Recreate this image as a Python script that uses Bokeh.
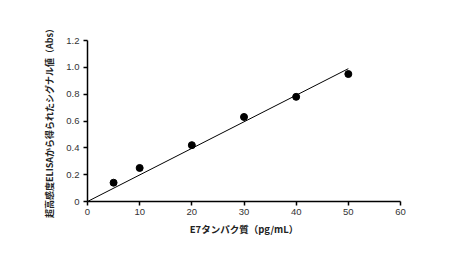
from bokeh.plotting import figure
from bokeh.models import Range1d, FixedTicker
from bokeh.embed import file_html
from bokeh.resources import INLINE

conc = [5, 10, 20, 30, 40, 50]
signal = [0.14, 0.25, 0.42, 0.63, 0.78, 0.95]
fit_x = [0, 50]
fit_y = [0.0, 0.99]
x_ticks = [0, 10, 20, 30, 40, 50, 60]
y_ticks = [0, 0.2, 0.4, 0.6, 0.8, 1.0, 1.2]
y_tick_labels = {0: "0", 0.2: "0.2", 0.4: "0.4", 0.6: "0.6", 0.8: "0.8", 1.0: "1.0", 1.2: "1.2"}

p = figure(width=450, height=253, output_backend="svg", toolbar_location=None,
           x_range=Range1d(0, 60), y_range=Range1d(0, 1.2),
           min_border_left=87, min_border_right=50, min_border_top=40, min_border_bottom=52)
p.outline_line_color = None
p.xgrid.visible = False
p.ygrid.visible = False
p.background_fill_color = "white"
p.border_fill_color = "white"

p.line(fit_x, fit_y, line_color="black", line_width=1)
p.scatter(conc, signal, size=7, fill_color="black", line_color="black")

for ax in (p.xaxis[0], p.yaxis[0]):
    ax.axis_line_color = "black"
    ax.axis_line_width = 1.5
    ax.major_tick_line_color = "black"
    ax.major_tick_line_width = 1.5
    ax.major_tick_out = 4
    ax.major_tick_in = 0
    ax.minor_tick_line_color = None
    ax.major_label_text_font = "Liberation Sans"
    ax.major_label_text_font_size = "9.5px"
    ax.major_label_text_color = "#333333"
    ax.axis_label_text_font = "Noto Sans CJK JP"
    ax.axis_label_text_font_style = "bold"
    ax.axis_label_text_color = "#222222"

p.xaxis[0].axis_label_text_font_size = "9.5px"
p.yaxis[0].axis_label_text_font_size = "9px"
p.xaxis[0].ticker = FixedTicker(ticks=x_ticks)
p.yaxis[0].ticker = FixedTicker(ticks=y_ticks)
p.yaxis[0].major_label_overrides = y_tick_labels
p.xaxis[0].axis_label = "E7タンパク質（pg/mL）"
p.yaxis[0].axis_label = "超高感度ELISAから得られたシグナル値（Abs）"
p.xaxis[0].axis_label_standoff = 4
p.yaxis[0].axis_label_standoff = 7
p.xaxis[0].major_label_standoff = 3
p.yaxis[0].major_label_standoff = 4

open("out.html", "w").write(file_html(p, INLINE))
